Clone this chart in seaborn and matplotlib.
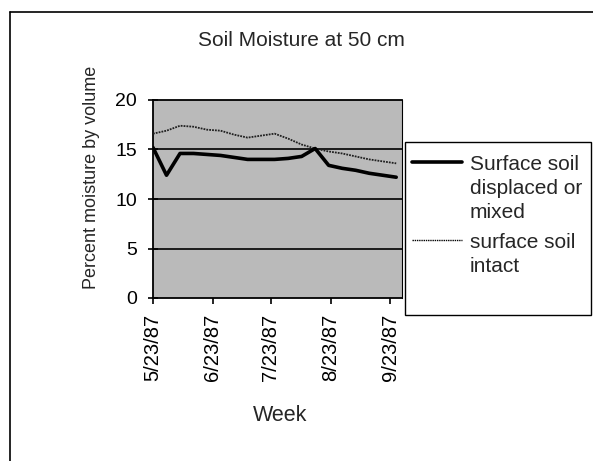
import matplotlib
matplotlib.use("Agg")
import matplotlib.pyplot as plt
from matplotlib.lines import Line2D
from matplotlib.patches import Rectangle
import pandas as pd
import seaborn as sns

# ---- data ----
start_date = "1987-05-23"
n_weeks = 19
displaced = [15.2, 12.4, 14.6, 14.6, 14.5, 14.4, 14.2, 14.0, 14.0, 14.0,
             14.1, 14.3, 15.1, 13.4, 13.1, 12.9, 12.6, 12.4, 12.2]
intact = [16.6, 16.9, 17.4, 17.3, 17.0, 16.9, 16.5, 16.2, 16.4, 16.6,
          16.1, 15.5, 15.1, 14.8, 14.6, 14.3, 14.0, 13.8, 13.6]
tick_dates = ["1987-05-23", "1987-06-23", "1987-07-23", "1987-08-23", "1987-09-23"]
tick_labels = ["5/23/87", "6/23/87", "7/23/87", "8/23/87", "9/23/87"]
y_ticks = [0, 5, 10, 15, 20]
label_displaced = ["Surface soil", "displaced or", "mixed"]
label_intact = ["surface soil", "intact"]
title = "Soil Moisture at 50 cm"
xlabel = "Week"
ylabel = "Percent moisture by volume"

weeks = pd.date_range(start_date, periods=n_weeks, freq="7D")
df = pd.DataFrame({"week": weeks, "displaced": displaced, "intact": intact})

sns.set_theme(style="white")
plt.rcParams["font.family"] = ["Liberation Sans", "DejaVu Sans"]
FS = 15

W, H = 593, 461
fig = plt.figure(figsize=(W / 100, H / 100), dpi=100)
ax = fig.add_axes([153 / W, 1 - 298 / H, (402 - 153) / W, (298 - 100) / H])
ax.set_facecolor("#bababa")

sns.lineplot(data=df, x="week", y="intact", ax=ax, color="#202020",
             linewidth=1.3, linestyle=(0, (1, 0.6)), zorder=3)
sns.lineplot(data=df, x="week", y="displaced", ax=ax, color="black",
             linewidth=2.6, zorder=4)

ax.set_ylim(0, 20)
ax.set_xlim(pd.Timestamp("1987-05-23"), pd.Timestamp("1987-09-29"))
ax.set_yticks(y_ticks)
ax.set_yticklabels([str(v) for v in y_ticks], fontsize=14)
ax.set_xticks(pd.to_datetime(tick_dates))
ax.set_xticklabels(tick_labels, rotation=90, fontsize=14.5)
ax.set_xlabel("")
ax.set_ylabel("")

for v in [5, 10, 15]:
    ax.axhline(v, color="black", linewidth=1.2, zorder=2)

for s in ax.spines.values():
    s.set_color("black")
    s.set_linewidth(1.3)
ax.spines["right"].set_linewidth(0.8)

ax.tick_params(axis="y", direction="inout", length=7, width=1.2, pad=8,
               colors="black", left=True)
ax.tick_params(axis="x", direction="out", length=4.5, width=1.2, pad=7,
               colors="black", bottom=True)

fig.text(301 / W, 1 - 40 / H, title, ha="center", va="center", fontsize=FS)
fig.text(280 / W, 1 - 415 / H, xlabel, ha="center", va="center", fontsize=15.5)
fig.text(92 / W, 1 - 177 / H, ylabel, ha="center", va="center",
         rotation=90, fontsize=13)

# legend box and entries
fig.patches.append(Rectangle((405 / W, 1 - 315 / H), (591 - 405) / W, (315 - 142) / H,
                             transform=fig.transFigure, facecolor="white",
                             edgecolor="black", linewidth=1.0, zorder=1))
legend_items = [
    (label_displaced, 162, dict(color="black", linewidth=2.6)),
    (label_intact, 240, dict(color="black", linewidth=1.0, linestyle=(0, (1, 0.6)))),
]
pitch = 24.5
for lines, y0, style in legend_items:
    fig.add_artist(Line2D([412 / W, 462 / W], [1 - y0 / H, 1 - y0 / H],
                          transform=fig.transFigure, **style))
    for k, txt in enumerate(lines):
        fig.text(470 / W, 1 - (y0 + k * pitch) / H, txt, ha="left",
                 va="center_baseline", fontsize=FS)

# outer chart frame
fig.add_artist(Line2D([10 / W, 10 / W], [0, 1 - 12 / H], transform=fig.transFigure,
                      color="black", linewidth=1.2))
fig.add_artist(Line2D([10 / W, 1], [1 - 12 / H, 1 - 12 / H], transform=fig.transFigure,
                      color="black", linewidth=1.2))

fig.savefig("out.png", dpi=100, facecolor="white")
